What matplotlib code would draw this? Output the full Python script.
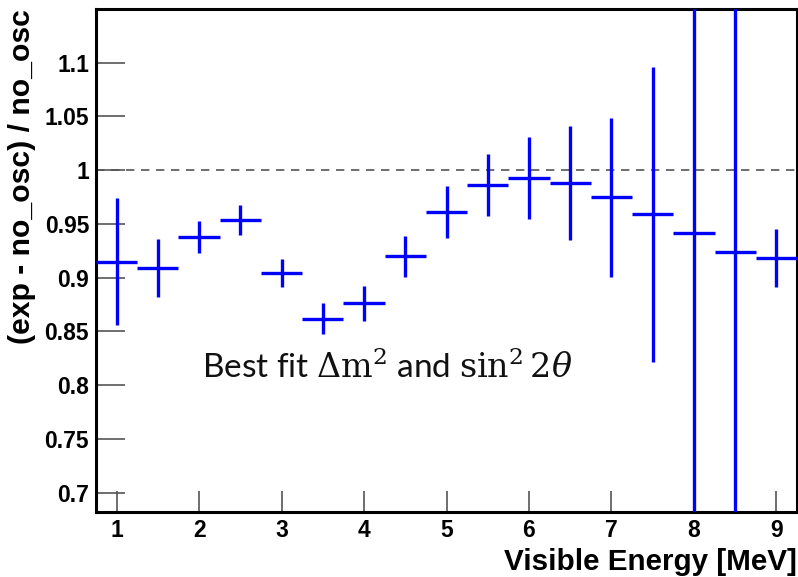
import numpy as np
import matplotlib
matplotlib.use("Agg")
from matplotlib import pyplot as plt

# bin centres [MeV], ratio values and their errors
energy = [1.0, 1.5, 2.0, 2.5, 3.0, 3.5, 4.0, 4.5, 5.0, 5.5, 6.0, 6.5, 7.0, 7.5, 8.0, 8.5, 9.0]
ratio = [0.915, 0.909, 0.938, 0.954, 0.904, 0.862, 0.876, 0.920, 0.961, 0.986, 0.993,
         0.988, 0.975, 0.959, 0.942, 0.924, 0.918]
ratio_err = [0.059, 0.027, 0.015, 0.014, 0.013, 0.014, 0.016, 0.019, 0.024, 0.029, 0.038,
             0.053, 0.074, 0.137, 0.6, 0.6, 0.027]
bin_half = 0.25

x_ticks = [1, 2, 3, 4, 5, 6, 7, 8, 9]
y_ticks = [0.7, 0.75, 0.8, 0.85, 0.9, 0.95, 1.0, 1.05, 1.1]
y_tick_labels = ["0.7", "0.75", "0.8", "0.85", "0.9", "0.95", "1", "1.05", "1.1"]

plt.rcParams['mathtext.fontset'] = 'dejavuserif'

fig = plt.figure(figsize=(7.98, 5.77), dpi=100)
ax = fig.add_axes([96 / 798, 1 - 512 / 577, 701 / 798, 503 / 577])

ax.axhline(1.0, color="#555555", lw=1.2, ls=(0, (5, 4)), zorder=1)
ax.errorbar(energy, ratio, yerr=ratio_err, xerr=bin_half, fmt="none",
            ecolor="#0000ff", elinewidth=2.4, capsize=0, zorder=3)

ax.set_xlim(0.75, 9.25)
ax.set_ylim(0.682, 1.15)
ax.set_xticks(x_ticks)
ax.set_xticklabels([str(t) for t in x_ticks])
ax.set_yticks(y_ticks)
ax.set_yticklabels(y_tick_labels)
ax.tick_params(axis="x", direction="in", length=15, width=1.2, color="#555555",
               pad=5, labelsize=16.5)
ax.tick_params(axis="y", direction="in", length=21, width=1.2, color="#555555",
               pad=5, labelsize=16.5)
for lab in ax.get_xticklabels() + ax.get_yticklabels():
    lab.set_fontweight("bold")
    lab.set_family("Liberation Sans")
for sp in ax.spines.values():
    sp.set_linewidth(2.2)

ax.set_xlabel("Visible Energy [MeV]", fontsize=21.3, fontweight="bold",
              family="Liberation Sans", loc="right", labelpad=4)
ax.set_ylabel("(exp - no_osc) / no_osc", fontsize=21.7, fontweight="bold",
              family="Liberation Sans", loc="top", labelpad=6)

ax.text(2.03, 0.807, r"Best fit $\Delta\mathrm{m}^2$ and $\sin^2 2\theta$",
        fontsize=24, family="Lato", color="#111111")

fig.savefig("out.png", dpi=100)
